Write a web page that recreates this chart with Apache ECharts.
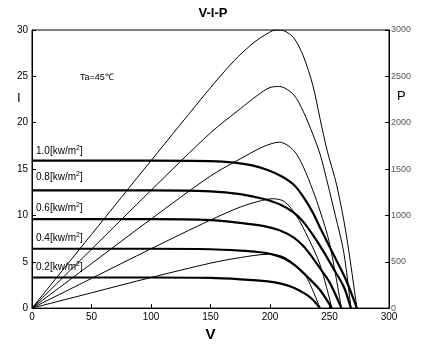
<!DOCTYPE html>
<html><head><meta charset="utf-8">
<script src="https://cdn.jsdelivr.net/npm/echarts@6/dist/echarts.min.js"></script>
<style>html,body{margin:0;padding:0;background:#fff}#c{width:426px;height:347px}</style>
</head><body><div id="c"></div>
<script>
// Voltage ticks / axes
const vTicks = [0, 50, 100, 150, 200, 250, 300];
const iTicks = [0, 5, 10, 15, 20, 25, 30];
const pTicks = [0, 500, 1000, 1500, 2000, 2500, 3000];
const irradianceLabels = ['1.0', '0.8', '0.6', '0.4', '0.2'];

// I-V curves [V, I]
const iv10 = [[0,15.9],[100,15.9],[150,15.85],[170,15.7],[185,15.4],[198,14.9],[210,14.2],[220,13.3],[228,12.0],[236,10.3],[242,8.7],[249,6.9],[256,5.1],[264,3.0],[273,0]];
const iv08 = [[0,12.7],[100,12.7],[150,12.6],[175,12.3],[194,11.8],[208,11.2],[220,10.3],[228,9.3],[236,7.9],[245,6.1],[255,3.9],[262,2.3],[268,0]];
const iv06 = [[0,9.6],[100,9.6],[150,9.5],[175,9.2],[195,8.85],[208,8.4],[220,7.6],[228,6.7],[236,5.4],[242,4.3],[250,2.8],[260,0]];
const iv04 = [[0,6.4],[100,6.4],[150,6.35],[175,6.2],[190,6.05],[202,5.8],[212,5.35],[222,4.5],[232,3.3],[242,1.95],[252,0]];
const iv02 = [[0,3.3],[100,3.3],[150,3.25],[175,3.1],[198,2.88],[210,2.62],[220,2.2],[230,1.5],[236,0.9],[242,0]];

// P-V curves [V, P]
const pv10 = [[0,0],[50,795],[100,1590],[150,2378],[170,2670],[185,2850],[195,2940],[205,3000],[212,2990],[220,2915],[228,2720],[236,2403],[242,2046],[248,1700],[256,1330],[264,800],[273,0]];
const pv08 = [[0,0],[50,635],[100,1270],[150,1890],[175,2150],[190,2300],[200,2380],[208,2390],[220,2300],[228,2120],[236,1875],[242,1664],[245,1524],[255,995],[262,600],[268,0]];
const pv06 = [[0,0],[50,480],[100,960],[150,1425],[175,1610],[195,1745],[208,1790],[220,1700],[228,1524],[236,1270],[242,1050],[250,700],[260,0]];
const pv04 = [[0,0],[50,320],[100,640],[150,950],[175,1090],[190,1150],[202,1180],[212,1150],[222,1000],[232,760],[242,470],[252,0]];
const pv02 = [[0,0],[50,165],[100,330],[150,485],[175,545],[198,580],[210,560],[220,480],[230,350],[242,0]];

const ivs = [iv10, iv08, iv06, iv04, iv02];
const pvs = [pv10, pv08, pv06, pv04, pv02];

const chart = echarts.init(document.getElementById('c'), null, {renderer: 'canvas'});
const FONT = 'Liberation Sans';
const series = [];
ivs.forEach((d) => series.push({type:'line', data:d, yAxisIndex:0, smooth:0.3, showSymbol:false, lineStyle:{color:'#000', width:2.2}, z:3}));
pvs.forEach((d) => series.push({type:'line', data:d, yAxisIndex:1, smooth:0.3, showSymbol:false, lineStyle:{color:'#000', width:1}, z:2}));

const labelYs = [152, 178, 209, 239, 268];
const graphics = irradianceLabels.map((t, k) => ({
  type:'text', left:36, top:labelYs[k]-7,
  style:{text:'{a|' + t + '[kw/m}{s|2}{a|]}', rich:{a:{fontSize:10, fontFamily:FONT, fill:'#000'}, s:{fontSize:7, fontFamily:FONT, fill:'#000', verticalAlign:'top', padding:[0,0,5,0]}}}
}));
graphics.push({type:'text', left:80, top:73, style:{text:'Ta=45℃', fontSize:9, fontFamily:FONT, fill:'#000'}});
graphics.push({type:'text', left:17, top:92, style:{text:'I', fontSize:13, fontFamily:FONT, fill:'#000'}});
graphics.push({type:'text', left:397, top:90, style:{text:'P', fontSize:13, fontFamily:FONT, fill:'#000'}});

chart.setOption({
  animation:false,
  backgroundColor:'#fff',
  title:{text:'V-I-P', left:'center', top:2, textStyle:{fontSize:13, fontWeight:'bold', fontFamily:FONT, color:'#000'}},
  grid:{left:32, right:37, top:30, bottom:33, show:true, borderColor:'#000', borderWidth:1},
  graphic: graphics,
  xAxis:{type:'value', min:vTicks[0], max:vTicks[vTicks.length-1], interval:50,
    name:'V', nameLocation:'middle', nameGap:17, nameTextStyle:{fontSize:15, fontWeight:'bold', fontFamily:FONT, color:'#000'},
    axisLine:{lineStyle:{color:'#000'}}, axisTick:{inside:true, length:4, lineStyle:{color:'#000'}},
    axisLabel:{fontSize:10, fontFamily:FONT, color:'#000', margin:4}, splitLine:{show:false}},
  yAxis:[
    {type:'value', min:iTicks[0], max:iTicks[iTicks.length-1], interval:5,
     axisLine:{show:true, lineStyle:{color:'#000'}}, axisTick:{show:true, inside:true, length:4, lineStyle:{color:'#000'}},
     axisLabel:{fontSize:10, fontFamily:FONT, color:'#000', margin:4}, splitLine:{show:false}},
    {type:'value', min:pTicks[0], max:pTicks[pTicks.length-1], interval:500, position:'right',
     axisLine:{show:true, lineStyle:{color:'#000'}}, axisTick:{show:true, inside:true, length:4, lineStyle:{color:'#000'}},
     axisLabel:{fontSize:9, fontFamily:FONT, color:'#555', margin:2, formatter:(v)=>String(v)}, splitLine:{show:false}}
  ],
  series: series
});
</script></body></html>
